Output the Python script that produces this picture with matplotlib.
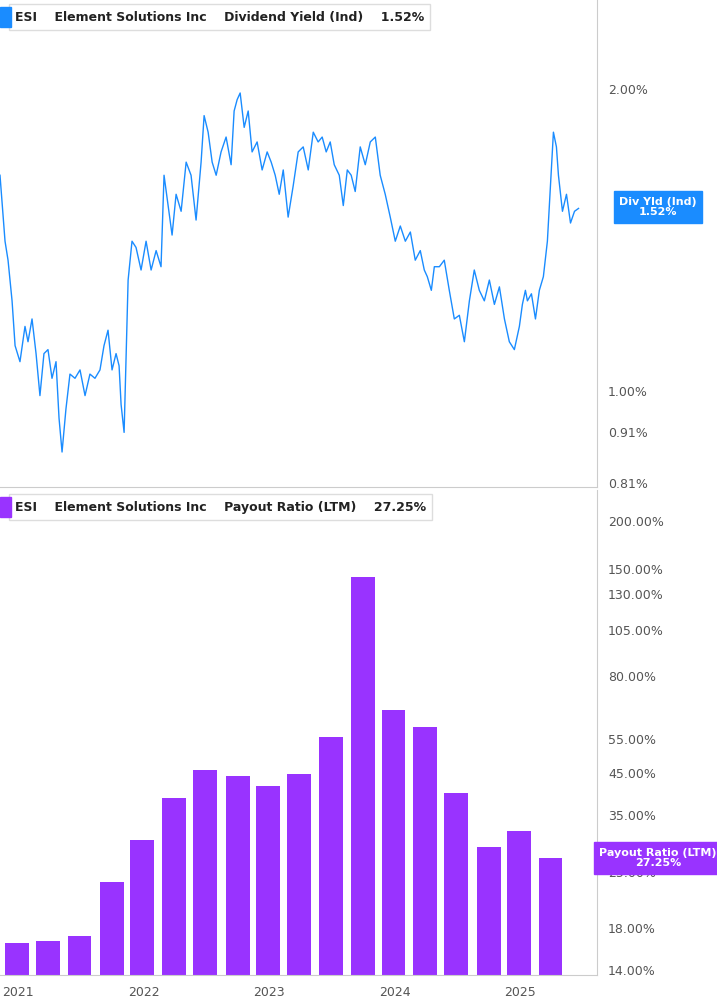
import matplotlib.pyplot as plt
import numpy as np

# dividend yield (%), dates in decimal years
yld_dates = [2020.857, 2020.897, 2020.921, 2020.953, 2020.977, 2021.016, 2021.056, 2021.080, 2021.112,
             2021.144, 2021.175, 2021.207, 2021.239, 2021.271, 2021.303, 2021.327, 2021.351, 2021.382,
             2021.414, 2021.454, 2021.494, 2021.534, 2021.573, 2021.613, 2021.653, 2021.685, 2021.717,
             2021.749, 2021.781, 2021.805, 2021.821, 2021.845, 2021.877, 2021.908, 2021.940, 2021.980,
             2022.020, 2022.060, 2022.100, 2022.139, 2022.163, 2022.195, 2022.227, 2022.259, 2022.299,
             2022.339, 2022.378, 2022.418, 2022.458, 2022.482, 2022.514, 2022.546, 2022.578, 2022.617,
             2022.657, 2022.697, 2022.721, 2022.745, 2022.769, 2022.801, 2022.833, 2022.864, 2022.904,
             2022.944, 2022.984, 2023.016, 2023.048, 2023.080, 2023.112, 2023.151, 2023.191, 2023.231,
             2023.271, 2023.311, 2023.351, 2023.390, 2023.422, 2023.454, 2023.486, 2023.518, 2023.558,
             2023.590, 2023.622, 2023.653, 2023.685, 2023.725, 2023.765, 2023.805, 2023.845, 2023.884,
             2023.924, 2023.964, 2024.004, 2024.044, 2024.084, 2024.124, 2024.163, 2024.203, 2024.235,
             2024.259, 2024.291, 2024.315, 2024.355, 2024.394, 2024.434, 2024.474, 2024.514, 2024.554,
             2024.594, 2024.633, 2024.673, 2024.713, 2024.753, 2024.793, 2024.833, 2024.873, 2024.912,
             2024.952, 2024.992, 2025.016, 2025.040, 2025.056, 2025.088, 2025.120, 2025.151, 2025.183,
             2025.215]
yld_vals = [1.64, 1.41, 1.35, 1.23, 1.11, 1.07, 1.16, 1.12, 1.18, 1.09, 0.99, 1.09, 1.10, 1.03, 1.07,
            0.94, 0.87, 0.96, 1.04, 1.03, 1.05, 0.99, 1.04, 1.03, 1.05, 1.11, 1.15, 1.05, 1.09, 1.06,
            0.97, 0.91, 1.29, 1.41, 1.39, 1.32, 1.41, 1.32, 1.38, 1.33, 1.64, 1.53, 1.43, 1.57, 1.51,
            1.69, 1.64, 1.48, 1.69, 1.88, 1.81, 1.69, 1.64, 1.73, 1.79, 1.68, 1.90, 1.95, 1.98, 1.83,
            1.90, 1.73, 1.77, 1.66, 1.73, 1.69, 1.64, 1.57, 1.66, 1.49, 1.60, 1.73, 1.75, 1.66, 1.81,
            1.77, 1.79, 1.73, 1.77, 1.68, 1.64, 1.53, 1.66, 1.64, 1.58, 1.75, 1.68, 1.77, 1.79, 1.64,
            1.57, 1.49, 1.41, 1.46, 1.41, 1.44, 1.35, 1.38, 1.32, 1.30, 1.26, 1.33, 1.33, 1.35, 1.26,
            1.18, 1.19, 1.12, 1.23, 1.32, 1.26, 1.23, 1.29, 1.22, 1.27, 1.18, 1.12, 1.10, 1.16, 1.22,
            1.26, 1.23, 1.25, 1.18, 1.26, 1.30, 1.41]
yld_tail_dates = [2025.263, 2025.287, 2025.303, 2025.335, 2025.367, 2025.399, 2025.431, 2025.463]
yld_tail_vals = [1.81, 1.75, 1.64, 1.51, 1.57, 1.47, 1.51, 1.52]

# payout ratio (%), quarter ends
bar_dates = [2020.99, 2021.24, 2021.49, 2021.75, 2021.99, 2022.24, 2022.49, 2022.75, 2022.99,
             2023.24, 2023.49, 2023.75, 2023.99, 2024.24, 2024.49, 2024.75, 2024.99, 2025.24]
payout = [16.4, 16.6, 17.1, 23.6, 30.3, 38.8, 45.8, 44.2, 41.7, 44.8, 55.7, 143.6, 65.3, 59.0,
          40.0, 29.0, 31.9, 27.25]

blue = '#1a8cff'
purple = '#9933ff'
grey = '#555555'

fig = plt.figure(figsize=(7.17, 10.05), dpi=100)
ax1 = fig.add_axes([0, 1 - 487 / 1005, 597 / 717, 487 / 1005])
ax2 = fig.add_axes([0, 30 / 1005, 597 / 717, 485 / 1005])
xlim = (2020.857, 2025.61)

ax1.plot(yld_dates + yld_tail_dates, yld_vals + yld_tail_vals, color=blue, lw=1)
ax1.set_yscale('log')
ax1.set_ylim(0.803, 2.45)
ax1.set_xlim(*xlim)
t1 = [2.0, 1.0, 0.91, 0.81]
ax1.yaxis.tick_right()
ax1.set_yticks(t1)
ax1.set_yticklabels(['%.2f%%' % t for t in t1])
ax1.yaxis.set_minor_locator(plt.NullLocator())
ax1.set_xticks([])

ax2.bar(bar_dates, payout, width=0.19, color=purple, bottom=0.01)
ax2.set_yscale('log')
ax2.set_ylim(13.6, 240)
ax2.set_xlim(*xlim)
t2 = [200, 150, 130, 105, 80, 55, 45, 35, 25, 18, 14]
ax2.yaxis.tick_right()
ax2.set_yticks(t2)
ax2.set_yticklabels(['%.2f%%' % t for t in t2])
ax2.yaxis.set_minor_locator(plt.NullLocator())
ax2.set_xticks([2021, 2022, 2023, 2024, 2025])
ax2.set_xticklabels(['2021', '2022', '2023', '2024', '2025'])

for ax in (ax1, ax2):
    for s in ('top', 'left'):
        ax.spines[s].set_visible(False)
    ax.spines['right'].set_color('#cccccc')
    ax.spines['bottom'].set_color('#cccccc')
    ax.tick_params(axis='both', colors=grey, labelsize=9, length=0, pad=8)
    for lab in ax.get_yticklabels() + ax.get_xticklabels():
        lab.set_color(grey)
ax2.tick_params(axis='x', pad=8)

# legend boxes
def header(ax, color, label, value):
    y = 1 - 17 / (ax.get_position().height * 1005)
    ax.text(0.025, y, 'ESI    Element Solutions Inc    %s    %s' % (label, value),
            transform=ax.transAxes, fontsize=9, color='#222222', fontweight='bold',
            va='center', bbox=dict(boxstyle='square,pad=0.5', fc='white', ec='#dddddd'))
    ax.text(0.006, y, ' ', transform=ax.transAxes, fontsize=9, va='center',
            bbox=dict(boxstyle='square,pad=0.3', fc=color, ec=color))

header(ax1, blue, 'Dividend Yield (Ind)', '1.52%')
header(ax2, purple, 'Payout Ratio (LTM)', '27.25%')

fig.text(658 / 717, 1 - 207 / 1005, 'Div Yld (Ind)\n1.52%', color='white', fontsize=8,
         fontweight='bold', ha='center', va='center', linespacing=1.1,
         bbox=dict(boxstyle='square,pad=0.5', fc=blue, ec=blue))
fig.text(658 / 717, 1 - 858 / 1005, 'Payout Ratio (LTM)\n27.25%', color='white', fontsize=8,
         fontweight='bold', ha='center', va='center', linespacing=1.1,
         bbox=dict(boxstyle='square,pad=0.5', fc=purple, ec=purple))

fig.savefig('out.png', dpi=100)
